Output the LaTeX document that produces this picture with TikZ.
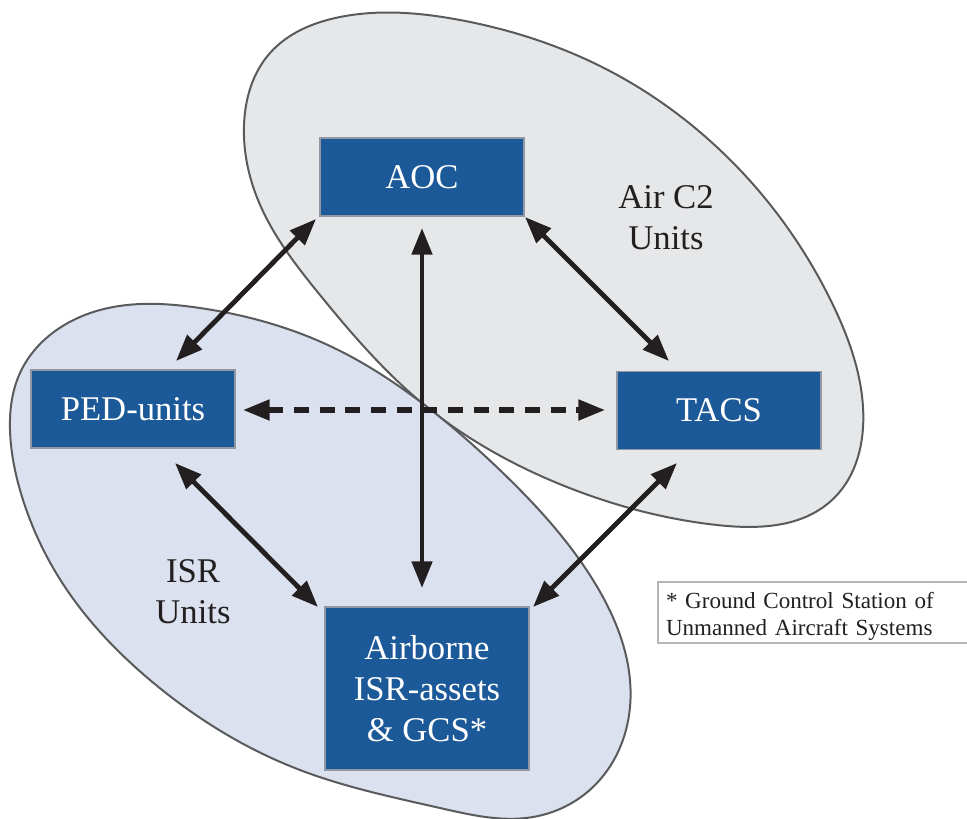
\documentclass[tikz,border=0pt]{standalone}
\usepackage{fontspec}
\setmainfont{Liberation Serif}
\usetikzlibrary{arrows.meta,hobby}

\definecolor{boxblue}{HTML}{1B5998}
\definecolor{boxedge}{HTML}{8F98A3}
\definecolor{ink}{HTML}{231F20}
\definecolor{rimgrey}{HTML}{595A5C}
\definecolor{airfill}{HTML}{E6E7E9}
\definecolor{isrfill}{HTML}{DCE1EF}
\definecolor{noteedge}{HTML}{B4B6B8}

\begin{document}
\begin{tikzpicture}[x=0.75pt, y=-0.75pt,
  unitbox/.style={rectangle, fill=boxblue, draw=boxedge, line width=1.1pt,
    text=white, font=\fontsize{26}{31}\selectfont, align=center,
    minimum width={204*0.75pt}, minimum height={78*0.75pt}, inner sep=0pt},
  grouplabel/.style={text=ink, font=\fontsize{26}{31}\selectfont, align=center, inner sep=0pt},
  region/.style={draw=rimgrey, line width=1.5pt},
  linkarrow/.style={draw=ink, line width=3.6pt, {Triangle[length=20pt, width=15pt]}-{Triangle[length=20pt, width=15pt]}},
  dashlink/.style={linkarrow, line width=3.9pt, dash pattern=on 11.25pt off 8pt},
  noteframe/.style={draw=noteedge, line width=0.8pt, fill=white},
  notetext/.style={text=ink, font=\fontsize{17.3}{20.5}\selectfont, align=left,
    text width={293*0.75pt}, inner sep=0pt}
]
\useasboundingbox (0,0) rectangle (967,818);

% Air C2 region
\filldraw[region, fill=airfill, use Hobby shortcut, closed=true]
  (244,125) .. (270,53) .. (340,17) .. (460,20) .. (600,66) .. (720,150)
  .. (833,305) .. (863,407) .. (832,500) .. (717,525) .. (567,487)
  .. (422,403) .. (320,295) .. (258,200);

% ISR region
\filldraw[region, fill=isrfill, use Hobby shortcut, closed=true]
  (20,373) .. (100,310) .. (200,308) .. (330,346) .. (422,403) .. (503,473)
  .. (593,580) .. (630,707) .. (593,787) .. (533,817) .. (440,808)
  .. (300,770) .. (150,680) .. (67,590) .. (20,490) .. (10,430);

% group labels
\node[grouplabel] (airlbl) at (666,218) {Air C2\\Units};
\node[grouplabel] (isrlbl) at (193,592) {ISR\\Units};

% units
\node[unitbox] (aoc)  at (422,177)   {AOC};
\node[unitbox] (ped)  at (133,409)   {PED-units};
\node[unitbox] (tacs) at (719,410.5) {TACS};
\node[unitbox, minimum height={163*0.75pt}] (air) at (427,688.5)
  {Airborne\\ISR-assets\\\& GCS*};

% arrow end points beside the boxes
\coordinate (aocSW)  at (316,219);
\coordinate (aocSE)  at (525,217);
\coordinate (aocS)   at (422,228);
\coordinate (pedNE)  at (176,361);
\coordinate (pedE)   at (243,410);
\coordinate (pedSE)  at (175,463);
\coordinate (tacsNW) at (669,361);
\coordinate (tacsW)  at (605,410);
\coordinate (tacsSW) at (677,463);
\coordinate (airNW)  at (318,607);
\coordinate (airN)   at (422,588);
\coordinate (airNE)  at (533,607);

% links
\draw[linkarrow] (aocSW) -- (pedNE);
\draw[linkarrow] (aocSE) -- (tacsNW);
\draw[linkarrow] (aocS) -- (airN);
\draw[dashlink] (pedE) -- (tacsW);
\draw[linkarrow] (pedSE) -- (airNW);
\draw[linkarrow] (tacsSW) -- (airNE);

% footnote
\draw[noteframe] (658,582) rectangle (967.5,643);
\node[notetext] (note) at (812.5,616.5)
  {* Ground Control Station of\\Unmanned Aircraft Systems};
\end{tikzpicture}
\end{document}
